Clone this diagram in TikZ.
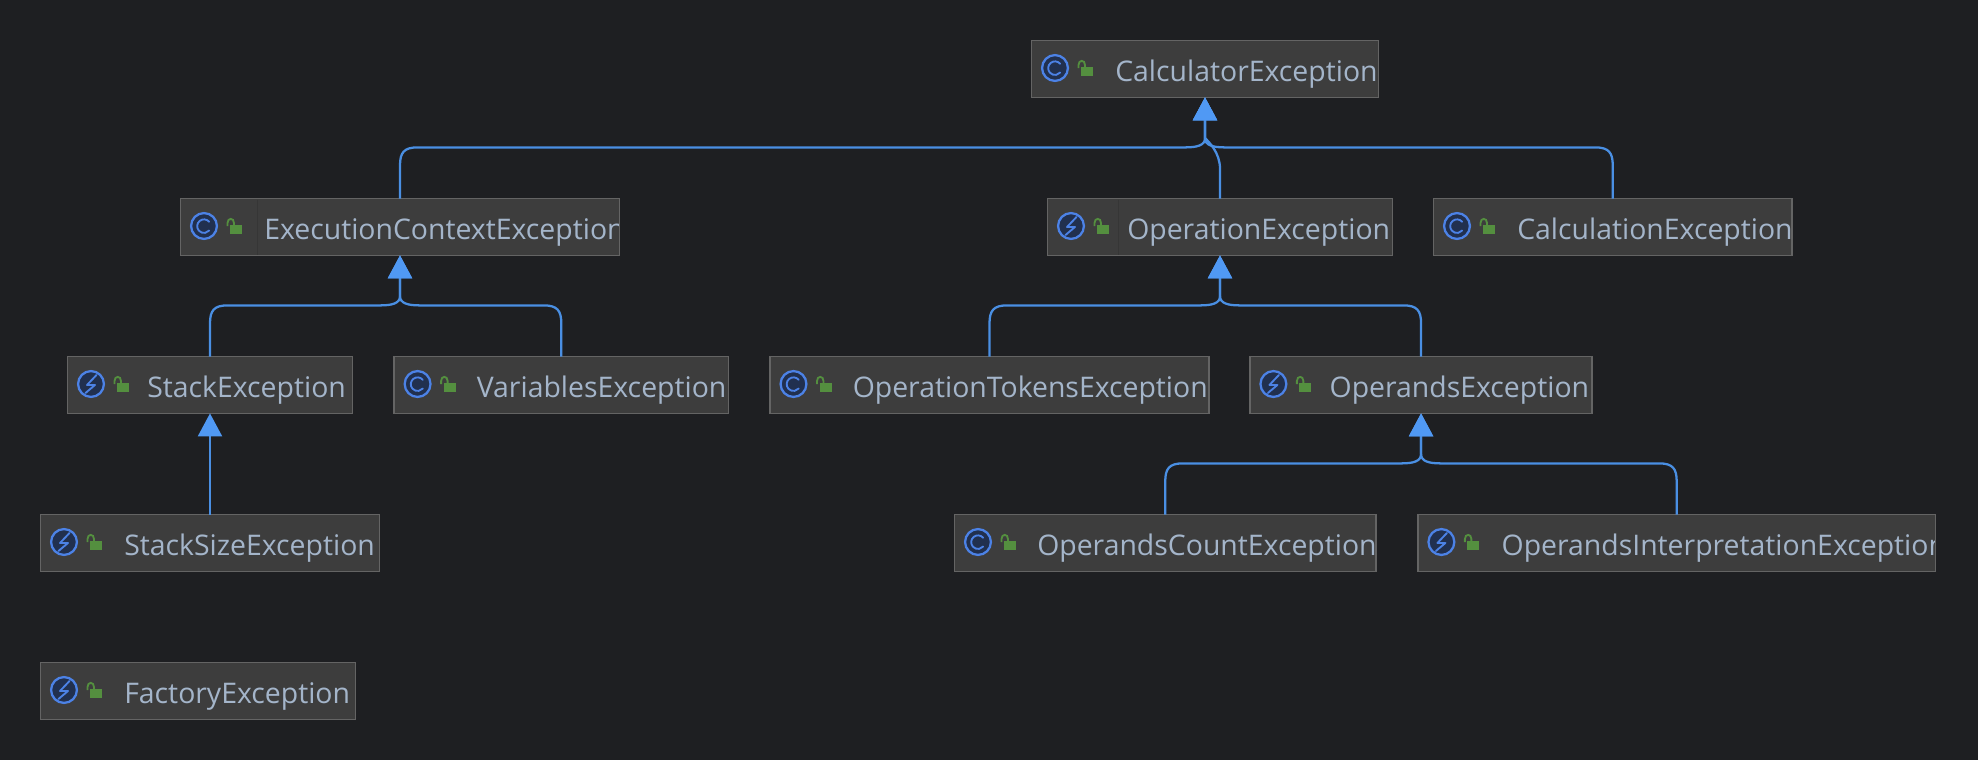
\documentclass[tikz,border=0pt]{standalone}
\usepackage{fontspec}
\setmainfont{Open Sans}
\usetikzlibrary{arrows.meta,calc}
\definecolor{bg}{HTML}{1E1F22}
\definecolor{boxfill}{HTML}{3D3D3D}
\definecolor{boxedge}{HTML}{646464}
\definecolor{divline}{HTML}{363636}
\definecolor{txt}{HTML}{A4B5CA}
\definecolor{edgec}{HTML}{4A8FE3}
\definecolor{tipc}{HTML}{5099F4}
\definecolor{iconring}{HTML}{4C82E6}
\definecolor{iconfill}{HTML}{21304F}
\definecolor{lockc}{HTML}{548F3F}
\tikzset{
  clsbox/.style={draw=boxedge,fill=boxfill,line width=1.2pt,inner sep=0pt,outer sep=0pt,anchor=north west,minimum height=42.6pt},
  clstext/.style={inner sep=0pt,anchor=base west,text=txt,font=\fontsize{21.3}{24}\selectfont},
  edgeline/.style={draw=edgec,line width=1.7pt,-{Triangle[length=17.25pt,width=18pt,fill=tipc,color=tipc]}},
  ring/.style={draw=iconring,fill=iconfill,line width=1.7pt},
  glyph/.style={draw=iconring,line width=1.4pt,line cap=round,line join=round},
  shackle/.style={draw=lockc,line width=1.4pt},
  lockbody/.style={fill=lockc,draw=none},
}
% name, x0, x1, y0, text offset, text
\newcommand{\clsnode}[6]{%
  \node[clsbox,minimum width={(#3-#2-1.2)*0.75pt}] (#1) at (#2+0.6,#4+0.6) {};
  \begin{scope}
    \clip (#2+1,#4) rectangle (#3-2,#4+58);
    \node[clstext] (#1text) at (#2+#5,#4+41.7) {#6};
  \end{scope}
  \draw[ring] (#2+24,#4+28) circle[radius=9.7pt];
  \draw[shackle] (#2+47.5,#4+28) -- (#2+47.5,#4+25) .. controls (#2+47.5,#4+19.5) and (#2+54,#4+19.5) .. (#2+54,#4+25) -- (#2+54,#4+27);
  \fill[lockbody] (#2+50,#4+26.7) rectangle (#2+62,#4+36);
}
\newcommand{\cicon}[2]{\draw[glyph] (#1+24+5.2,#2+28-4.2) arc[start angle=-40,end angle=-320,x radius=6.8pt*0.75,y radius=-6.8pt*0.75];}
\newcommand{\bolticon}[2]{\draw[glyph] (#1+24+5.5,#2+28-9) -- (#1+24-4,#2+28+1) -- (#1+24+4,#2+28+1) -- (#1+24-5.5,#2+28+9);}
\newcommand{\divider}[3]{\draw[divline,line width=.75pt] (#1,#2+1.5) -- (#1,#2+57);}
% child, parent
\newcommand{\inherit}[2]{%
  \draw[edgeline] let \p1=(#1.north),\p2=(#2.south),\n1={\y2-37.5pt},\n2={sign(\x2-\x1)} in
    (\p1) -- (\x1,\n1-13.5pt)
    .. controls (\x1,\n1-4pt) and ({\x1+\n2*3pt},\n1) .. ({\x1+\n2*13pt},\n1)
    -- ({\x2-\n2*15pt},\n1)
    .. controls ({\x2-\n2*6pt},\n1) and (\x2,\n1+1.5pt) .. (\x2,\n1+7pt)
    -- (\p2);
}
\begin{document}
\begin{tikzpicture}[x=0.75pt,y=-0.75pt]
\fill[bg] (0,0) rectangle (1978,760);
\useasboundingbox (0,0) rectangle (1978,760);

\clsnode{calc}{1031}{1379}{40}{84}{CalculatorException}\cicon{1031}{40}
\clsnode{ctx}{180}{620}{198}{84}{ExecutionContextException}\cicon{180}{198}\divider{257}{198}{}
\clsnode{oper}{1047}{1393}{198}{80}{OperationException}\bolticon{1047}{198}\divider{1118}{198}{}
\clsnode{calcn}{1433}{1792.5}{198}{84}{CalculationException}\cicon{1433}{198}
\clsnode{stack}{67}{353}{356}{80}{StackException}\bolticon{67}{356}
\clsnode{vars}{393.6}{729}{356}{83}{VariablesException}\cicon{393.6}{356}
\clsnode{tokens}{769.5}{1209.5}{356}{83}{OperationTokensException}\cicon{769.5}{356}
\clsnode{operands}{1249.4}{1592.7}{356}{80}{OperandsException}\bolticon{1249.4}{356}
\clsnode{ssize}{40}{380}{514}{84}{StackSizeException}\bolticon{40}{514}
\clsnode{count}{954}{1376.5}{514}{83}{OperandsCountException}\cicon{954}{514}
\clsnode{interp}{1417.4}{1936}{514}{84}{OperandsInterpretationException}\bolticon{1417.4}{514}
\clsnode{factory}{40}{356}{662}{84}{FactoryException}\bolticon{40}{662}

\inherit{ctx}{calc}
\inherit{calcn}{calc}
\draw[edgeline] let \p1=(oper.north),\p2=(calc.south),\n1={\y2-37.5pt} in
  (\p1) -- (\x1,\n1-16pt)
  .. controls (\x1,\n1-4pt) and (\x2+3pt,\n1+4pt) .. (\x2,\n1+7pt) -- (\p2);
\inherit{stack}{ctx}
\inherit{vars}{ctx}
\inherit{tokens}{oper}
\inherit{operands}{oper}
\draw[edgeline] (ssize.north) -- (stack.south);
\inherit{count}{operands}
\inherit{interp}{operands}
\end{tikzpicture}
\end{document}
